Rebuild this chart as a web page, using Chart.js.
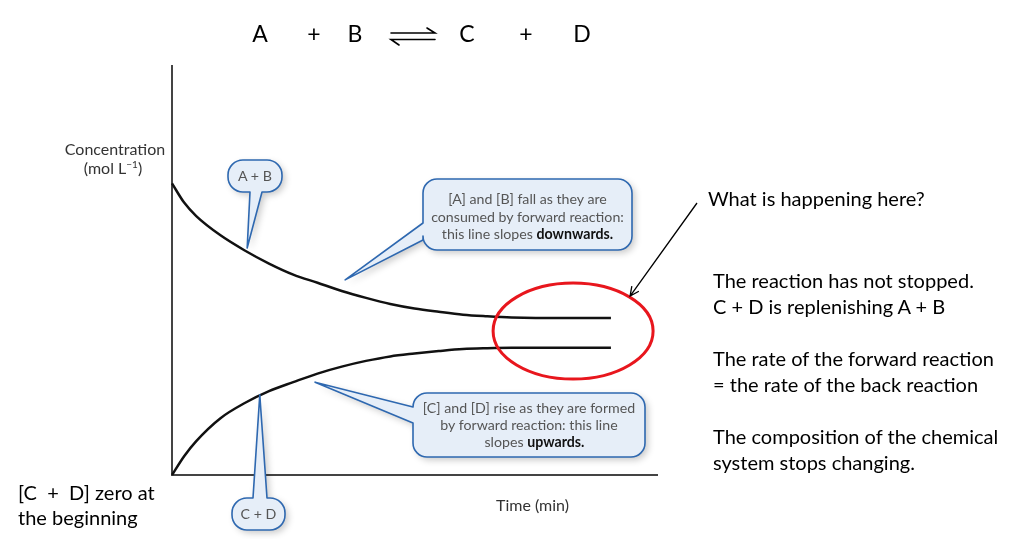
<!DOCTYPE html>
<html>
<head>
<meta charset="utf-8">
<script src="https://cdn.jsdelivr.net/npm/chart.js@4.4.1/dist/chart.umd.min.js"></script>
<style>
  html, body { margin: 0; padding: 0; background: #fff; }
  #wrap { position: relative; width: 1010px; height: 539px; overflow: hidden; font-family: Lato, "Open Sans", sans-serif; }
  #chart { position: absolute; left: 0; top: 0; }
  .t { position: absolute; white-space: nowrap; color: #000; }
  .eq { font-size: 23px; top: 19px; transform: translateX(-50%); }
  .note { font-size: 20px; left: 713px; }
  .axis { font-size: 16px; color: #333; }
  .bubble { position: absolute; text-align: center; font-size: 14.2px; color: #555; white-space: nowrap; }
  .bubble b { color: #111; }
  sup { font-size: 10px; line-height: 0; }
</style>
</head>
<body>
<div id="wrap">
  <canvas id="chart" width="1010" height="539"></canvas>

  <!-- equation -->
  <span class="t eq" style="left:260px">A</span>
  <span class="t eq" style="left:314px">+</span>
  <span class="t eq" style="left:355px">B</span>
  <span class="t eq" style="left:467px">C</span>
  <span class="t eq" style="left:526px">+</span>
  <span class="t eq" style="left:582px">D</span>

  <!-- axis labels -->
  <div class="t axis" style="left:58px; top:139px; width:114px; text-align:center">Concentration</div>
  <div class="t axis" style="left:56px; top:158px; width:114px; text-align:center">(mol L<sup>−1</sup>)</div>
  <div class="t axis" style="left:496px; top:495px">Time (min)</div>

  <!-- callout texts -->
  <div class="bubble" style="left:228px; top:160px; width:54px; line-height:32px">A + B</div>
  <div class="bubble" style="left:232px; top:498px; width:53px; line-height:32px">C + D</div>
  <div class="bubble" style="left:423px; top:190px; width:209px; line-height:17.5px">
    [A] and [B] fall as they are<br>consumed by forward reaction:<br>this line slopes <b>downwards.</b>
  </div>
  <div class="bubble" style="left:413px; top:399px; width:232px; line-height:17px">
    [C] and [D] rise as they are formed<br>by forward reaction: this line<br>&nbsp;&nbsp;&nbsp;slopes <b>upwards.</b>
  </div>

  <!-- notes -->
  <div class="t note" style="left:708px; top:186px">What is happening here?</div>
  <div class="t note" style="top:268px">The reaction has not stopped.</div>
  <div class="t note" style="top:294px">C + D is replenishing A + B</div>
  <div class="t note" style="top:346px">The rate of the forward reaction</div>
  <div class="t note" style="top:372px">= the rate of the back reaction</div>
  <div class="t note" style="top:424px">The composition of the chemical</div>
  <div class="t note" style="top:450px">system stops changing.</div>

  <div class="t note" style="left:18px; top:480px">[C&nbsp; +&nbsp; D] zero at</div>
  <div class="t note" style="left:18px; top:505px">the beginning</div>
</div>

<script>
// Data
const times = [0, 0.25, 0.5, 1, 1.5, 2, 2.5, 3, 3.5, 4, 4.5, 5, 5.5, 6, 6.5, 7, 7.5, 8, 9.05];
const concAB = [7.13, 6.66, 6.33, 5.86, 5.49, 5.17, 4.90, 4.70, 4.50, 4.33, 4.18, 4.07, 3.99, 3.92, 3.88, 3.85, 3.84, 3.84, 3.84];
const concCD = [0, 0.46, 0.83, 1.39, 1.76, 2.05, 2.27, 2.48, 2.65, 2.79, 2.90, 2.97, 3.03, 3.08, 3.10, 3.11, 3.11, 3.11, 3.11];

// callouts: bubble box in px, tip in data units
const callouts = [
  { x: 228, y: 160, w: 54, h: 32, r: 15, side: 'bottom', a: 250, b: 262, tip: [1.55, 5.55] },
  { x: 423, y: 179, w: 209, h: 71, r: 14, side: 'left', a: 223, b: 240, tip: [3.57, 4.77] },
  { x: 413, y: 393, w: 232, h: 64, r: 14, side: 'left', a: 407, b: 423, tip: [2.95, 2.27] },
  { x: 232, y: 498, w: 53, h: 32, r: 15, side: 'top', a: 253, b: 267, tip: [1.81, 1.96] }
];
const equilibriumAt = [8.27, 3.52];

function toPoints(ys) {
  return times.map((t, i) => ({ x: t, y: ys[i] }));
}

function calloutPath(ctx, c, tx, ty) {
  const { x, y, w, h, r } = c;
  ctx.beginPath();
  ctx.moveTo(x + r, y);
  if (c.side === 'top') { ctx.lineTo(c.a, y); ctx.lineTo(tx, ty); ctx.lineTo(c.b, y); }
  ctx.lineTo(x + w - r, y);
  ctx.arcTo(x + w, y, x + w, y + r, r);
  ctx.lineTo(x + w, y + h - r);
  ctx.arcTo(x + w, y + h, x + w - r, y + h, r);
  if (c.side === 'bottom') { ctx.lineTo(c.b, y + h); ctx.lineTo(tx, ty); ctx.lineTo(c.a, y + h); }
  ctx.lineTo(x + r, y + h);
  ctx.arcTo(x, y + h, x, y + h - r, r);
  if (c.side === 'left') { ctx.lineTo(x, c.b); ctx.lineTo(tx, ty); ctx.lineTo(x, c.a); }
  ctx.lineTo(x, y + r);
  ctx.arcTo(x, y, x + r, y, r);
  ctx.closePath();
}

const annotations = {
  id: 'annotations',
  afterDraw(chart) {
    const { ctx, scales } = chart;
    const sx = scales.x, sy = scales.y;

    callouts.forEach(c => {
      const tx = sx.getPixelForValue(c.tip[0]);
      const ty = sy.getPixelForValue(c.tip[1]);
      ctx.save();
      calloutPath(ctx, c, tx, ty);
      ctx.shadowColor = 'rgba(0,0,0,0.22)';
      ctx.shadowBlur = 7;
      ctx.shadowOffsetX = 3;
      ctx.shadowOffsetY = 3;
      ctx.fillStyle = '#e6eef8';
      ctx.fill();
      ctx.restore();
      ctx.save();
      calloutPath(ctx, c, tx, ty);
      ctx.strokeStyle = '#2e68b0';
      ctx.lineWidth = 1.6;
      ctx.lineJoin = 'round';
      ctx.stroke();
      ctx.restore();
    });

    // red ellipse round the flat part
    const ex = sx.getPixelForValue(equilibriumAt[0]);
    const ey = sy.getPixelForValue(equilibriumAt[1]);
    ctx.save();
    ctx.beginPath();
    ctx.ellipse(ex, ey, 80, 48, 0, 0, Math.PI * 2);
    ctx.strokeStyle = '#e8161d';
    ctx.lineWidth = 3;
    ctx.stroke();

    // pointer arrow
    const x0 = 697, y0 = 203, x1 = ex + 57, y1 = ey - 35;
    const ang = Math.atan2(y1 - y0, x1 - x0);
    ctx.strokeStyle = '#000';
    ctx.lineWidth = 1.3;
    ctx.beginPath();
    ctx.moveTo(x0, y0);
    ctx.lineTo(x1, y1);
    ctx.moveTo(x1 - 10 * Math.cos(ang - 0.45), y1 - 10 * Math.sin(ang - 0.45));
    ctx.lineTo(x1, y1);
    ctx.lineTo(x1 - 10 * Math.cos(ang + 0.45), y1 - 10 * Math.sin(ang + 0.45));
    ctx.stroke();

    // equilibrium harpoons in the equation
    ctx.lineWidth = 1.6;
    ctx.lineCap = 'round';
    ctx.beginPath();
    ctx.moveTo(391, 33); ctx.lineTo(435, 33); ctx.lineTo(427, 28);
    ctx.moveTo(435, 39.5); ctx.lineTo(391, 39.5); ctx.lineTo(399, 45);
    ctx.stroke();
    ctx.restore();
  }
};

const noAxisSpace = {
  grid: { display: false },
  ticks: { display: false },
  border: { display: true, color: '#444', width: 2 }
};

const lineStyle = {
  borderColor: '#111',
  backgroundColor: '#111',
  borderWidth: 2.5,
  pointRadius: 0,
  fill: false,
  cubicInterpolationMode: 'monotone',
  clip: false
};

new Chart(document.getElementById('chart').getContext('2d'), {
  type: 'line',
  data: {
    datasets: [
      { label: 'A + B', data: toPoints(concAB), ...lineStyle },
      { label: 'C + D', data: toPoints(concCD), ...lineStyle }
    ]
  },
  options: {
    responsive: false,
    animation: false,
    devicePixelRatio: 1,
    layout: { padding: { left: 172, right: 353, top: 66, bottom: 64 } },
    plugins: { legend: { display: false }, tooltip: { enabled: false }, colors: { enabled: false } },
    scales: {
      x: { type: 'linear', min: 0, max: 10, ...noAxisSpace, afterFit: s => { s.height = 0; } },
      y: { min: 0, max: 10, ...noAxisSpace, afterFit: s => { s.width = 0; } }
    }
  },
  plugins: [annotations]
});
</script>
</body>
</html>
